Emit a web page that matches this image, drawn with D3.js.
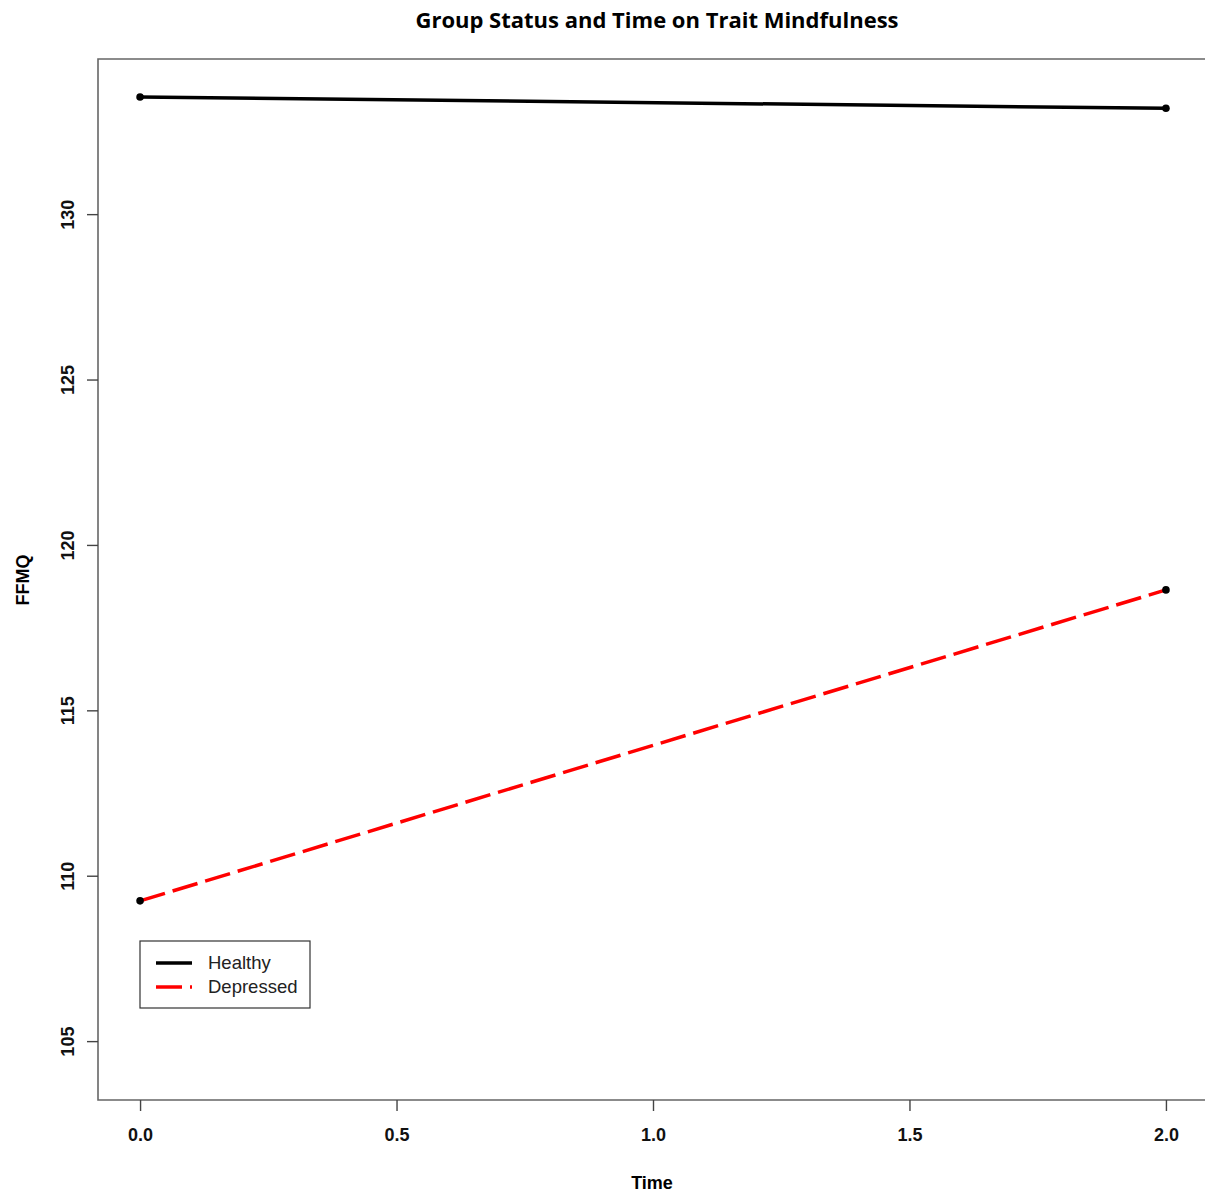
<!DOCTYPE html>
<html lang="en">
<head>
<meta charset="UTF-8">
<title>Group Status and Time on Trait Mindfulness</title>
<script src="https://d3js.org/d3.v7.min.js"></script>
<style>
    body { margin: 0; background: #fff; }
    .title { font-family: "Open Sans", sans-serif; font-weight: bold; font-size: 22px; }
    .axis-label { font-family: "Liberation Sans", Arial, sans-serif; font-weight: bold; font-size: 18px; }
    .tick text { font-family: "Liberation Sans", Arial, sans-serif; font-weight: bold; font-size: 18px; fill: #111; }
    .legend text { font-family: "Liberation Sans", Arial, sans-serif; font-size: 18.5px; fill: #222; }
</style>
</head>
<body>
<div id="chart"></div>
<script>
// data
const times = [0, 2];
const healthy = [133.54, 133.2];
const depressed = [109.24, 118.64];
const seriesNames = ["Healthy", "Depressed"];
const xTicks = [0, 0.5, 1, 1.5, 2];
const yTicks = [105, 110, 115, 120, 125, 130];

const W = 1205, H = 1197;
const margin = { top: 59, right: -3, bottom: 97, left: 98 };
const width = W - margin.left - margin.right;
const height = H - margin.top - margin.bottom;

const svg = d3.select("#chart").append("svg")
    .attr("width", W)
    .attr("height", H);

const g = svg.append("g")
    .attr("transform", `translate(${margin.left},${margin.top})`);

const x = d3.scaleLinear().domain([-0.082, 2.082]).range([0, width]);
const y = d3.scaleLinear().domain([103.22, 134.69]).range([height, 0]);

// frame (left, top, bottom)
g.append("path")
    .attr("d", `M${width + 10},0 H0 V${height} H${width + 10}`)
    .attr("fill", "none")
    .attr("stroke", "#666")
    .attr("stroke-width", 1.6);

// x axis
const xAxis = g.append("g")
    .attr("transform", `translate(0,${height})`)
    .call(d3.axisBottom(x).tickValues(xTicks).tickFormat(d3.format(".1f")).tickSize(11).tickPadding(17));
xAxis.select(".domain").remove();
xAxis.selectAll(".tick line").attr("stroke", "#444").attr("stroke-width", 1.4);

// y axis
const yAxis = g.append("g")
    .call(d3.axisLeft(y).tickValues(yTicks).tickSize(11).tickPadding(0));
yAxis.select(".domain").remove();
yAxis.selectAll(".tick line").attr("stroke", "#444").attr("stroke-width", 1.4);
yAxis.selectAll(".tick text")
    .attr("text-anchor", "middle")
    .attr("x", null)
    .attr("dy", null)
    .attr("transform", "translate(-24,0) rotate(-90)");

// lines
const line = d3.line().x((d, i) => x(times[i])).y(d => y(d));

g.append("path")
    .datum(healthy)
    .attr("d", line)
    .attr("fill", "none")
    .attr("stroke", "#000")
    .attr("stroke-width", 3.5);

g.append("path")
    .datum(depressed)
    .attr("d", line)
    .attr("fill", "none")
    .attr("stroke", "#ff0000")
    .attr("stroke-width", 3.5)
    .attr("stroke-dasharray", "26,8");

// points
[healthy, depressed].forEach(s => {
    g.selectAll(null)
        .data(s)
        .enter().append("circle")
        .attr("cx", (d, i) => x(times[i]))
        .attr("cy", d => y(d))
        .attr("r", 3.8)
        .attr("fill", "#000");
});

// title
svg.append("text")
    .attr("class", "title")
    .attr("x", 657)
    .attr("y", 28)
    .attr("text-anchor", "middle")
    .text("Group Status and Time on Trait Mindfulness");

// axis labels
svg.append("text")
    .attr("class", "axis-label")
    .attr("text-anchor", "middle")
    .attr("x", 652)
    .attr("y", 1189)
    .text("Time");

svg.append("text")
    .attr("class", "axis-label")
    .attr("text-anchor", "middle")
    .attr("transform", "translate(29,580) rotate(-90)")
    .text("FFMQ");

// legend
const legend = svg.append("g").attr("class", "legend");
legend.append("rect")
    .attr("x", 140).attr("y", 941)
    .attr("width", 170).attr("height", 67)
    .attr("fill", "#fff")
    .attr("stroke", "#333")
    .attr("stroke-width", 1.2);

const legendColors = ["#000", "#ff0000"];
const legendDash = [null, "26,8"];
seriesNames.forEach((name, i) => {
    const yy = 963 + i * 24;
    legend.append("line")
        .attr("x1", 156).attr("x2", 192)
        .attr("y1", yy).attr("y2", yy)
        .attr("stroke", legendColors[i])
        .attr("stroke-width", 3.5)
        .attr("stroke-dasharray", legendDash[i]);
    legend.append("text")
        .attr("x", 208)
        .attr("y", yy + 6)
        .text(name);
});
</script>
</body>
</html>
